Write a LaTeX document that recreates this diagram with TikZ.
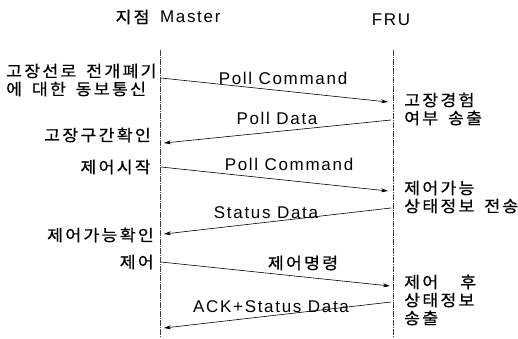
\documentclass[tikz,border=0pt]{standalone}
\usepackage{fontspec}
\setmainfont{Liberation Sans}[LetterSpace=10]
\newfontfamily\kr{Noto Sans CJK KR}[LetterSpace=14,FakeBold=0.6,FakeStretch=1.08,WordSpace=1.6]
\usetikzlibrary{arrows.meta}
\begin{document}
\begin{tikzpicture}[x=1pt,y=-1pt,
  life/.style={line width=0.5pt, dash pattern=on 6pt off 1pt on 1pt off 1pt, black!75},
  msg/.style={line width=0.6pt, -{Stealth[length=7pt,width=4pt]}},
  lbl/.style={font=\fontsize{17}{19}\selectfont, inner sep=0pt},
  klbl/.style={font=\kr\fontsize{16}{18}\selectfont, inner sep=0pt, align=left},
]
\useasboundingbox (0,0) rectangle (518,338);
% headers
\node[lbl] (hm) at (168,17) {{\kr\fontsize{16}{18}\selectfont 지점}\hspace{4pt} Master};
\node[lbl] (hf) at (391,20) {FRU};
% lifelines
\coordinate (mtop) at (160,50); \coordinate (mbot) at (160,338);
\coordinate (ftop) at (393,50); \coordinate (fbot) at (393,338);
\draw[life] (mtop) -- (mbot);
\draw[life] (ftop) -- (fbot);
% message endpoints
\coordinate (a1) at (161,78);  \coordinate (b1) at (388,102);
\coordinate (a2) at (391,120); \coordinate (b2) at (164,143);
\coordinate (a3) at (161,167); \coordinate (b3) at (388,191);
\coordinate (a4) at (391,208); \coordinate (b4) at (164,234);
\coordinate (a5) at (161,262); \coordinate (b5) at (390,286);
\coordinate (a6) at (391,302); \coordinate (b6) at (164,328);
\draw[msg] (a1) -- (b1);
\draw[msg] (a2) -- (b2);
\draw[msg] (a3) -- (b3);
\draw[msg] (a4) -- (b4);
\draw[msg] (a5) -- (b5);
\draw[msg] (a6) -- (b6);
% message labels
\node[lbl] (l1) at (283,78) {Poll Command};
\node[lbl] (l2) at (277,118) {Poll Data};
\node[lbl] (l3) at (289,164) {Poll Command};
\node[lbl] (l4) at (266,213) {Status Data};
\node[klbl] (l5) at (303,263) {제어명령};
\node[lbl] (l6) at (271,307) {ACK+Status Data};
% master side
\node[klbl, anchor=west] (s1) at (6,80) {고장선로 전개폐기\\에 대한 동보통신};
\node[klbl, anchor=east] (s2) at (151,135) {고장구간확인};
\node[klbl, anchor=east] (s3) at (151,167) {제어시작};
\node[klbl, anchor=east] (s4) at (154,235) {제어가능확인};
\node[klbl, anchor=east] (s5) at (154,262) {제어};
% FRU side
\node[klbl, anchor=west] (r1) at (404,109) {고장경험\\여부 송출};
\node[klbl, anchor=west] (r2) at (404,197) {제어가능\\상태정보 전송};
\node[klbl, anchor=west] (r3) at (404,300) {제어\hspace{22pt}후\\상태정보\\송출};
\end{tikzpicture}
\end{document}
